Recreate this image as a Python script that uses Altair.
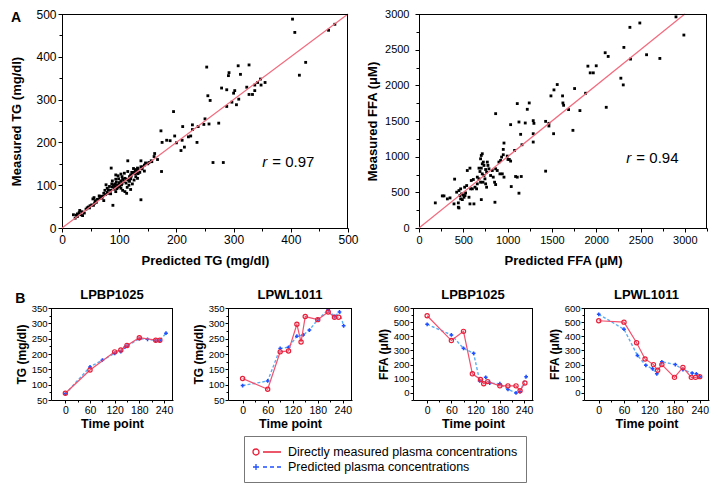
import altair as alt
import pandas as pd

FONT = "Liberation Sans"

# ---------------- Panel A : measured vs predicted ----------------
tg_pred = [403, 407, 466, 477, 426, 415, 253, 308, 327, 292, 291, 312,
           255, 259, 279, 288, 300, 302, 297, 288, 305, 309, 323, 327, 333, 337, 337, 342, 347, 348, 355,
           250, 274, 257, 248, 238, 228, 228, 221, 225, 211, 210, 214, 208, 200, 197, 189, 183, 175, 173, 195, 236, 264, 282,
           174, 167, 162, 161, 157, 152, 156, 144, 138, 132, 115, 138, 113, 110, 86, 89, 73,
           20, 23, 27, 30, 31, 33, 36, 39, 46, 48, 49, 52, 55, 54, 56, 58, 62, 65, 71, 73, 75, 79, 81, 83,
           87, 90, 93, 95, 97, 100, 103, 106, 108, 110, 113, 118, 120, 123, 126, 129, 133, 138, 141, 144,
           88, 94, 91, 94, 103, 106, 118, 123, 126, 129, 103, 109, 98, 94, 115, 79, 81, 68, 77, 125, 128, 131, 132,
           97, 99, 101, 104, 92, 96, 85, 88, 100, 105, 112, 116, 120, 122, 128, 130, 60, 57, 42, 44, 35, 27, 25,
           121, 133, 136, 140, 150, 146, 105, 99, 117, 114, 120, 85, 76, 70, 66]
tg_meas = [488, 457, 462, 476, 387, 357, 376, 379, 381, 363, 356, 359,
           309, 298, 327, 323, 315, 321, 294, 284, 288, 301, 329, 312, 312, 321, 334, 340, 348, 334, 340,
           255, 245, 243, 242, 237, 241, 230, 213, 215, 237, 205, 189, 181, 199, 215, 204, 205, 200, 227, 272, 200, 153, 153,
           132, 160, 174, 167, 155, 153, 157, 133, 157, 140, 157, 66, 81, 85, 140, 53, 64,
           31, 23, 27, 36, 41, 31, 29, 35, 49, 47, 52, 54, 53, 68, 71, 64, 67, 75, 74, 81, 88, 93, 89, 97,
           103, 101, 103, 107, 100, 106, 110, 114, 109, 116, 114, 120, 124, 128, 130, 136, 138, 143, 143, 147,
           110, 114, 91, 85, 93, 88, 109, 103, 112, 120, 126, 128, 122, 124, 132, 83, 81, 74, 101, 139, 136, 132, 116,
           95, 98, 97, 101, 97, 92, 88, 96, 100, 104, 105, 112, 115, 130, 127, 129, 60, 58, 44, 47, 38, 33, 30,
           121, 127, 130, 138, 150, 152, 120, 115, 100, 95, 90, 80, 78, 70, 69]

ffa_pred = [2900, 2989, 2492, 2380, 2568, 2718, 2387, 2312, 2135, 2101, 2000, 1906, 1967, 1932, 2278, 2305,
            2113, 1880, 1816, 1688, 1737, 1620, 1624, 1632, 1756, 1560, 1523, 1489, 1519, 1429, 1466, 1466,
            1429, 1109, 1244, 1222, 1128, 1199, 1289, 1297, 1147, 1289, 1289, 1162, 1034, 865, 959, 951, 996,
            1004, 1079, 1090, 1109, 1154, 1041, 1128,
            184, 263, 282, 320, 350, 395, 402, 444, 444, 451, 425, 451, 470, 462, 481, 500, 508, 470, 489,
            515, 538, 526, 519, 545, 575, 564, 620, 575, 590, 613, 583, 602, 632, 650, 658, 677, 658, 695,
            677, 703, 688, 695, 703, 714, 714, 726, 733, 714, 733, 744, 722, 752, 763, 703, 752, 763, 771,
            778, 789, 808, 827, 838, 857, 853, 865, 865, 883, 902, 921, 913, 940, 959, 932, 951, 1034, 1019]
ffa_meas = [2960, 2705, 2874, 2813, 2429, 2377, 2368, 2532, 2405, 2457, 2274, 2269, 2175, 2175, 2100, 2006,
            1692, 1889, 1646, 1660, 1369, 1852, 1753, 1720, 1955, 2011, 1936, 1852, 1322, 1495, 1467, 1430,
            797, 1744, 1753, 1664, 1486, 1472, 1505, 1467, 1313, 1322, 1205, 1167, 1449, 1603, 1191, 1102, 1008,
            961, 1088, 722, 713, 722, 581, 488,
            352, 450, 450, 408, 422, 338, 685, 352, 291, 281, 502, 525, 549, 455, 478, 464, 431, 408, 398,
            572, 595, 492, 455, 806, 839, 431, 338, 338, 666, 680, 549, 549, 572, 549, 713, 689, 619, 642,
            839, 839, 792, 970, 1017, 1041, 900, 924, 877, 759, 736, 689, 642, 619, 572, 398, 820, 783, 924,
            877, 830, 736, 806, 713, 361, 642, 609, 830, 806, 924, 947, 759, 759, 713, 994, 1027, 938, 961]

diag_tg = [0, 500]
diag_ffa = [0, 3000]

# ---------------- Panel B : time courses ----------------
SERIES = ["Directly measured plasma concentrations", "Predicted plasma concentrations"]

b1_t_meas = [0, 60, 120, 135, 150, 180, 220, 230]
b1_v_meas = [72, 148, 207, 213, 228, 253, 245, 245]
b1_t_pred = [0, 60, 90, 120, 135, 145, 150, 180, 200, 220, 230, 245]
b1_v_pred = [70, 158, 180, 202, 208, 222, 226, 250, 248, 244, 244, 268]

b2_t_meas = [0, 60, 90, 110, 130, 140, 150, 180, 205, 220, 230]
b2_v_meas = [120, 85, 207, 210, 297, 239, 322, 312, 337, 320, 320]
b2_t_pred = [0, 60, 90, 110, 130, 145, 160, 180, 205, 220, 232, 242]
b2_v_pred = [97, 112, 218, 222, 258, 262, 278, 312, 344, 322, 337, 292]

b3_t_meas = [0, 60, 90, 112, 132, 140, 150, 180, 200, 220, 230, 242]
b3_v_meas = [545, 370, 435, 135, 95, 65, 80, 50, 50, 50, 15, 70]
b3_t_pred = [0, 60, 90, 115, 130, 145, 155, 180, 200, 220, 230, 245]
b3_v_pred = [485, 410, 315, 280, 85, 110, 70, 65, 25, 0, 10, 115]

b4_t_meas = [0, 60, 90, 110, 130, 140, 150, 180, 200, 220, 230, 240]
b4_v_meas = [510, 500, 355, 240, 200, 160, 200, 110, 180, 110, 110, 115]
b4_t_pred = [0, 60, 92, 112, 128, 138, 150, 182, 200, 222, 232, 240]
b4_v_pred = [555, 450, 265, 195, 170, 135, 220, 200, 165, 140, 135, 115]

RED_LINE = "#f2506c"
RED_PT = "#e8203a"
BLUE_LINE = "#5aaef5"
BLUE_PT = "#1f4fff"
DIAG = "#f26b7e"

# legend glyphs (unit = half the nominal symbol side)
PATH_M = ("M -1.0 0 A 0.43 0.43 0 1 0 -0.14 0 A 0.43 0.43 0 1 0 -1.0 0 "
          "M 0.43 0 L 3.0 0")
PATH_P = ("M -1.0 0 L -0.14 0 M -0.57 -0.43 L -0.57 0.43 "
          "M 0.43 0 L 1.0 0 M 1.43 0 L 2.0 0 M 2.43 0 L 3.0 0")

NOFRAME = alt.ViewBackground(strokeOpacity=0)


def make_axis(title, values, major, tick_major, tick_minor, label_size, title_size,
              label_pad, title_pad):
    return alt.Axis(
        title=title, values=values, format="d",
        labelExpr=f"datum.value % {major} == 0 ? datum.label : ''",
        tickSize={"condition": {"test": f"datum.value % {major} != 0", "value": tick_minor},
                  "value": tick_major},
        labelFontSize=label_size, titleFontSize=title_size,
        labelPadding=label_pad, titlePadding=title_pad,
        labelFlush=False, labelOverlap=False, grid=False,
        labelFont=FONT, titleFont=FONT, titleFontWeight="bold",
        labelColor="black", titleColor="black", domainColor="black", tickColor="black",
    )


def frame_layers(xs, ys, xax, yax, xdom, ydom):
    fdf = pd.DataFrame({"x0": [xdom[0]], "x1": [xdom[1]], "y0": [ydom[0]], "y1": [ydom[1]]})
    top = alt.Chart(fdf).mark_rule(color="black", strokeWidth=1, yOffset=0.5).encode(
        x=alt.X("x0:Q", scale=xs, axis=xax), x2="x1:Q", y=alt.Y("y1:Q", scale=ys, axis=yax))
    right = alt.Chart(fdf).mark_rule(color="black", strokeWidth=1, xOffset=-0.5).encode(
        x=alt.X("x1:Q", scale=xs, axis=xax), y=alt.Y("y0:Q", scale=ys, axis=yax), y2="y1:Q")
    return [top, right]


def scatter(pred, meas, diag, xmax, ymax, step, major, xtitle, ytitle, rpos,
            rtext, lab_size, ylab_pad, ytitle_pad, width):
    df = pd.DataFrame({"pred": pred, "meas": meas})
    xvals = list(range(0, xmax + 1, step))
    yvals = list(range(0, ymax + 1, step))
    xs = alt.Scale(domain=[0, xmax], nice=False, zero=False)
    ys = alt.Scale(domain=[0, ymax], nice=False, zero=False)
    xax = make_axis(xtitle, xvals, major, 4, 3, lab_size, 13, 2, 9)
    yax = make_axis(ytitle, yvals, major, 4, 3, lab_size, 13, ylab_pad, ytitle_pad)
    x = alt.X("pred:Q", scale=xs, axis=xax)
    y = alt.Y("meas:Q", scale=ys, axis=yax)
    pts = alt.Chart(df).mark_square(size=8, color="black", opacity=1).encode(x=x, y=y)
    ddf = pd.DataFrame({"pred": diag, "meas": diag})
    line = alt.Chart(ddf).mark_line(color=DIAG, strokeWidth=1.2).encode(x=x, y=y)
    rdf = pd.DataFrame({"pred": [rpos[0]], "meas": [rpos[1]], "r": ["r"], "v": [rtext]})
    r1 = alt.Chart(rdf).mark_text(align="left", baseline="middle", font=FONT, fontSize=15,
                                  fontStyle="italic", color="black").encode(x=x, y=y, text="r:N")
    r2 = alt.Chart(rdf).mark_text(align="left", baseline="middle", font=FONT, fontSize=15,
                                  dx=10, color="black").encode(x=x, y=y, text="v:N")
    layers = [pts, line] + frame_layers(xs, ys, xax, yax, (0, xmax), (0, ymax)) + [r1, r2]
    return alt.layer(*layers).properties(width=width, height=214, view=NOFRAME)


def time_panel(title, tm, vm, tp, vp, ydom, ystep, ymajor, ytitle, width, legend=False):
    df_m = pd.DataFrame({"time": tm, "value": vm, "series": SERIES[0]})
    df_p = pd.DataFrame({"time": tp, "value": vp, "series": SERIES[1]})
    xdom = (-35, 262)
    xvals = list(range(0, 241, 30))
    yvals = list(range(ydom[0], ydom[1] + 1, ystep))
    xs = alt.Scale(domain=list(xdom), nice=False, zero=False)
    ys = alt.Scale(domain=list(ydom), nice=False, zero=False)
    xax = make_axis("Time point", xvals, 60, 3, 2, 10.5, 12.5, 2, 2)
    yax = make_axis(ytitle, yvals, ymajor, 3, 2, 9.5, 12, 1, 3)
    x = alt.X("time:Q", scale=xs, axis=xax)
    y = alt.Y("value:Q", scale=ys, axis=yax)
    pred_line = alt.Chart(df_p).mark_line(color=BLUE_LINE, strokeDash=[3, 2], strokeWidth=1.4).encode(x=x, y=y)
    pred_pts = alt.Chart(df_p).mark_point(shape="cross", filled=True, size=14, color=BLUE_PT,
                                          opacity=1).encode(x=x, y=y)
    meas_line = alt.Chart(df_m).mark_line(color=RED_LINE, strokeWidth=1.2).encode(x=x, y=y)
    meas_pts = alt.Chart(df_m).mark_point(shape="circle", filled=False, size=18, strokeWidth=1.2,
                                          color=RED_PT, opacity=1).encode(x=x, y=y)
    layers = [pred_line, pred_pts, meas_line, meas_pts] + frame_layers(xs, ys, xax, yax, xdom, ydom)
    if legend:
        leg = alt.Legend(title=None, orient="none", legendX=193, legendY=422, direction="vertical",
                         strokeColor="#777", fillColor="white", padding=8, labelFont=FONT,
                         labelFontSize=12.5, labelColor="black", labelLimit=400, symbolSize=196,
                         symbolStrokeWidth=1.3, labelOffset=20, rowPadding=0,
                         symbolOpacity=1)
        lg = alt.Chart(df_m).transform_filter("false").mark_point(filled=False, strokeWidth=1.3).encode(
            x=x, y=y,
            color=alt.Color("series:N", scale=alt.Scale(domain=SERIES, range=[RED_PT, BLUE_PT]), legend=leg),
            shape=alt.Shape("series:N", scale=alt.Scale(domain=SERIES, range=[PATH_M, PATH_P]), legend=leg),
        )
        layers.append(lg)
    return alt.layer(*layers).properties(
        width=width, height=92, view=NOFRAME,
        title=alt.TitleParams(title, font=FONT, fontSize=13, fontWeight="bold", color="black", offset=1))


def letter(t, off):
    return alt.TitleParams(t, anchor="start", frame="bounds", font=FONT, fontSize=14, fontWeight="bold",
                           color="black", offset=off)


a1 = scatter(tg_pred, tg_meas, diag_tg, 500, 500, 50, 100, "Predicted TG (mg/dl)", "Measured TG (mg/dl)",
             (350, 155), "= 0.97", 12, 2, 12, 286)
a2 = scatter(ffa_pred, ffa_meas, diag_ffa, 3250, 3000, 250, 500, "Predicted FFA (μM)", "Measured FFA (μM)",
             (2340, 980), "= 0.94", 11, 6, 5, 288)

b1 = time_panel("LPBP1025", b1_t_meas, b1_v_meas, b1_t_pred, b1_v_pred, (50, 350), 25, 50, "TG (mg/dl)",
                122, legend=True)
b2 = time_panel("LPWL1011", b2_t_meas, b2_v_meas, b2_t_pred, b2_v_pred, (50, 350), 25, 50, "TG (mg/dl)", 124)
b3 = time_panel("LPBP1025", b3_t_meas, b3_v_meas, b3_t_pred, b3_v_pred, (-50, 600), 50, 100, "FFA (μM)", 120)
b4 = time_panel("LPWL1011", b4_t_meas, b4_v_meas, b4_t_pred, b4_v_pred, (-50, 600), 50, 100, "FFA (μM)", 125)

# small invisible anchor cell: puts panel A's plot area a little right of panel B's
spacer_df = pd.DataFrame({"v": [0]})
spacer = alt.Chart(spacer_df).mark_point(opacity=0, size=1).encode(
    x=alt.X("v:Q", axis=None), y=alt.Y("v:Q", axis=None)
).properties(width=11, height=1, view=NOFRAME)

row_a = alt.hconcat(alt.hconcat(spacer, a1, spacing=-80), a2, spacing=7, title=letter("A", -17))
row_b = alt.hconcat(alt.hconcat(b1, b2, spacing=18), alt.hconcat(b3, b4, spacing=14), spacing=24,
                    title=letter("B", -17))

chart = alt.concat(row_a, row_b, columns=1, align="none", spacing=22).properties(
    padding={"left": 2, "top": 0, "right": 0, "bottom": 2}
).configure_view(strokeOpacity=0)

chart.save("out.html", embed_options={"renderer": "svg", "actions": False})
